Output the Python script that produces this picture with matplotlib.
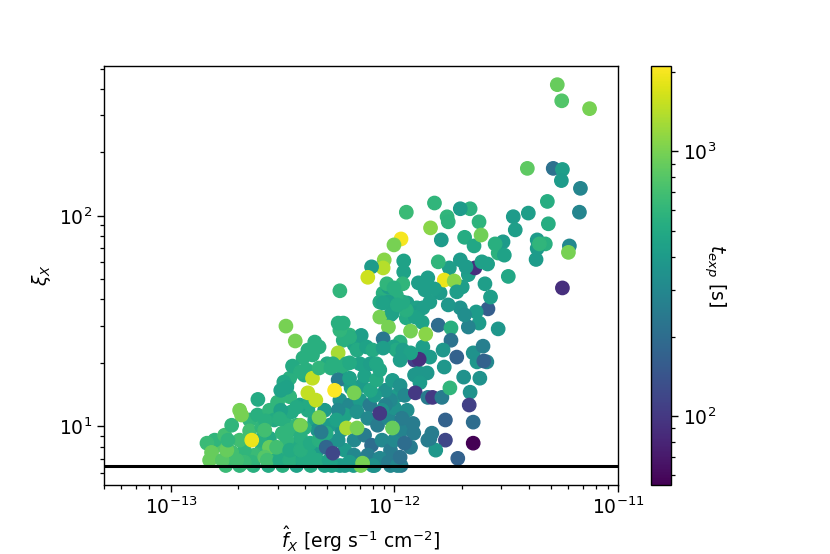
import numpy as np
import matplotlib
matplotlib.use("Agg")
import matplotlib.pyplot as plt
from matplotlib.colors import LogNorm

plt.rcParams['font.size'] = 13.5
plt.rcParams['axes.linewidth'] = 1.0

# flux in units of 1e-13 erg/s/cm2, xi_X, exposure time [s]
# upper right sparse part
fx_a = [53.5, 56, 74.6, 39.3, 51.3, 56.4, 55.8, 67.9, 67.2, 48.3,
        48.8, 39.7, 34, 34.7, 60.6, 60, 56.4, 43.5, 47.3, 43.5,
        43, 44.5, 32.3, 30.6, 28.2, 31, 23.9, 24.4, 21.8, 19.7]
xi_a = [420, 352, 323, 168, 168, 166, 147, 135, 104, 117,
        91.6, 103, 99, 85.7, 71.9, 67, 45.4, 76.8, 73.5, 70,
        62, 73.5, 51.5, 75.2, 73.5, 65, 93.6, 81, 108, 108]
t_a = [900, 780, 1000, 850, 210, 420, 400, 290, 290, 530,
       530, 420, 400, 420, 300, 1000, 90, 400, 550, 400,
       400, 600, 480, 400, 550, 450, 580, 950, 560, 400]

# upper middle
fx_b = [20.6, 22.7, 22.9, 24.6, 26.1, 19.7, 20.9, 17.6, 25.4, 26.9,
        17.2, 17.4, 15.1, 11.3, 14.5, 16.2, 10.7, 9.95, 15.7, 16.7,
        18.5, 14.1, 12.8, 15.1, 19, 11, 11, 9, 8.9, 10.9,
        9.4, 7.9, 7.6, 5.7, 9.25, 9.95, 29.1]
xi_b = [79, 71.9, 56.5, 60.4, 59, 61.7, 57.2, 56.5, 47.5, 41.1,
        98.9, 93.6, 115, 104, 87.6, 76.8, 77.6, 72.7, 60.4, 49.5,
        49, 50.7, 48, 44.9, 43.5, 61, 54.1, 61.7, 56.5, 47.5,
        45.9, 57.2, 51, 44, 47.5, 45.4, 66.5]
t_b = [520, 480, 90, 430, 430, 400, 400, 420, 420, 420,
       600, 580, 600, 650, 1100, 400, 2000, 1000, 600, 1900,
       1100, 420, 420, 420, 420, 450, 450, 1100, 1400, 600,
       420, 400, 1600, 600, 600, 550, 560]

# middle band
fx_c = [26.2, 23.2, 23.9, 21.4, 29.1, 19.7, 20.6, 17.4, 16, 15.7,
        17.9, 17.9, 19, 16.5, 22.5, 24.9, 25.1, 12.9, 13.8, 11.8,
        13.4, 14.4, 13.7, 12.4, 11.3, 10.9, 10.2, 9.4, 9.6, 8.6,
        8.6, 9.4, 8.9, 9.9, 10.2, 10.9, 11.8, 10.6, 7.1, 6.3,
        5.9, 5.7, 5.6, 5.9, 6.8, 7.5, 8.0, 8.9, 5.6, 4.6,
        4.4, 4.1, 4.3, 3.9, 3.5, 3.6, 3.27, 5.0, 5.3, 6.1,
        7.0, 7.8, 8.3,
        3.8, 4.05, 4.3, 4.6, 5.2, 5.8, 6.3, 6.1, 5.6, 6.3,
        5.4, 4.1, 3.2, 3.3, 3.1, 6.6, 7.8, 8.3, 8.6,
        8.9, 9.8, 10.3, 2.45]
xi_c = [36.1, 34.9, 30.9, 29.6, 29, 36.5, 33.8, 37.7, 43, 30.2,
        29.3, 25.6, 21.3, 23, 22.3, 24, 20.4, 20.8, 27.4, 28.3,
        36.5, 38.9, 44.4, 33, 35.6, 38.9, 42, 38.9, 33.8, 33,
        38.9, 29.6, 26, 23.8, 23, 23, 22.3, 20.6, 27, 26.5,
        25.6, 28.6, 30.9, 30.9, 23, 23.8, 23, 23.5, 22.3, 23.8,
        25.1, 23, 21.8, 21.1, 19.3, 25.4, 29.9, 19.8, 19.8, 19.8,
        19.8, 19.8, 19.8,
        18.1, 18.5, 16.9, 18.9, 18.9, 19.1, 20, 16.6, 16.6, 16.9,
        14.8, 14.4, 16.2, 15.3, 14.8, 14.4, 14.8, 16.6, 18.5,
        38.5, 34.5, 37.7, 13.4]
t_c = [160, 400, 400, 280, 380, 350, 330, 380, 400, 200,
       550, 220, 170, 380, 350, 260, 170, 90, 1100, 1000,
       420, 420, 420, 450, 550, 500, 550, 420, 450, 1000,
       500, 1000, 230, 450, 500, 420, 450, 420, 420, 550,
       550, 600, 550, 550, 500, 450, 500, 420, 1300, 550,
       550, 550, 550, 550, 500, 1000, 1000, 500, 550, 500,
       450, 420, 480,
       550, 550, 1500, 600, 550, 550, 500, 400, 250, 450,
       2100, 1500, 480, 450, 450, 1000, 480, 500, 480,
       450, 450, 500, 500]

# extra points filling the middle band
fx_h = [20.1, 21.4, 8.9, 9.6, 11.4, 12.6, 12.1, 13.3, 11.3, 6.3,
        6.6, 10.6, 13.4, 14.4, 3.06, 3.65]
xi_h = [45.9, 52.5, 42.9, 38.5, 38.5, 36.5, 34.5, 31.2, 32.7, 27.1,
        24.4, 25.1, 23.8, 21.3, 10.85, 12.3]
t_h = [420, 420, 550, 500, 420, 450, 400, 450, 500, 600,
       450, 550, 420, 400, 550, 500]

# lower left
fx_d = [1.45, 1.52, 1.49, 1.7, 1.97, 1.78, 1.8, 1.87, 2.03, 2.07,
        2.25, 2.3, 2.55, 2.65, 2.63, 2.76, 2.63, 2.7, 3.07, 3.4,
        3.9, 4.5, 5.1, 3.0, 3.1, 3.4, 3.3, 3.4,
        3.95,
        4.45, 3.65, 3.95, 3.8, 3.3, 3.15, 2.97, 3.4, 3.8, 4.2,
        4.6, 4.95, 4.7, 4.95, 5.3, 5.5,
        6.1, 6.8, 3.8, 4.6, 7.2, 8.6, 9.8]
xi_d = [8.3, 7.5, 6.89, 6.89, 6.89, 7.69, 8.58, 10.1, 11.9, 11.3,
        9.5, 8.58, 9.9, 10.6, 9.57, 7.94, 7.12, 6.89, 6.89, 6.89,
        6.89, 6.89, 6.89, 13, 11.9, 13.8, 15.6, 16.9,
        17.5,
        13.3, 10.1, 9.8, 8.86, 8.58, 9.26, 7.94, 7.69, 7.69, 8.3,
        8.58, 9.26, 9.37, 7.94, 7.44, 10.7,
        9.8, 9.8, 10.1, 11, 6.67, 11.5, 9.8]
t_d = [650, 900, 900, 800, 700, 900, 600, 600, 1000, 1000,
       700, 1900, 600, 550, 700, 900, 800, 700, 500, 550,
       500, 500, 450, 600, 450, 600, 600, 550,
       500,
       1500, 600, 550, 550, 600, 600, 700, 500, 550, 500,
       550, 500, 250, 180, 120, 450,
       1300, 1000, 1000, 1000, 1000, 100, 900]

# lower right
fx_e = [12.1, 12.2, 14.1, 12.3, 12.9, 12.3, 14, 13, 12.4, 14.1,
        14.8, 16.3, 16.7, 17.7, 20.4, 21.8, 24.1, 25.9, 23.4, 21.6,
        22.5, 22.5, 19.2, 16.9, 16.9, 15.3, 14.7, 14.4, 11.8, 11.1,
        10.6]
xi_e = [10.3, 9.26, 8.58, 20.6, 17.9, 17.5, 17.9, 16.1, 14.4, 13.7,
        13.7, 13.7, 19.1, 15.2, 17.1, 14.5, 16.9, 20.2, 20.2, 12.6,
        10.45, 8.3, 7.03, 10.7, 8.58, 7.69, 9.26, 8.72, 7.94, 8.3,
        7.12]
t_e = [250, 250, 250, 110, 380, 380, 380, 400, 100, 250,
       100, 250, 380, 600, 350, 350, 350, 300, 380, 110,
       200, 55, 170, 170, 120, 380, 250, 250, 250, 200,
       220]

# dense core
fx_f = [5.7, 6.3, 7.0, 7.76, 6.0, 6.8, 7.6, 8.4, 9.4, 10.0,
        10.3, 9.6, 9.1, 7.14, 6.4, 5.8, 6.6, 7.35, 7.9, 8.8,
        9.6, 10.0, 10.8, 6.0, 6.6, 7.6, 8.6, 9.4, 10.3, 8.0,
        6.3, 5.6, 5.24, 6.0, 9.1, 8.15, 7.35, 9.8, 10.6, 11.1,
        11.4, 10.8, 8.8, 4.87, 4.4, 4.1, 5.12, 4.53, 5.6, 5.0,
        4.53, 4.17, 3.77, 3.57, 3.22, 2.9, 2.55, 2.37, 2.13, 2.03,
        2.25, 2.44, 2.76, 2.9, 3.22, 3.47, 3.77, 4.17, 3.39, 2.76,
        2.49, 2.3, 2.13, 1.87, 1.65, 1.57, 1.74]
xi_f = [13.3, 12.6, 13.3, 12.6, 11.3, 11.7, 10.9, 10.1, 10.9, 12.2,
        14.0, 13.3, 14.8, 15.6, 15.2, 9.57, 8.58, 9.06, 8.12, 8.58,
        7.69, 8.58, 9.57, 7.69, 7.28, 7.28, 7.04, 6.74, 6.5, 6.5,
        6.74, 8.58, 6.5, 6.5, 12.6, 14.0, 17.3, 16.5, 15.6, 14.0,
        11.9, 10.9, 11.9, 11.9, 10.7, 11.9, 10.1, 9.57, 11.9, 8.12,
        7.69, 7.28, 7.04, 8.12, 7.69, 7.28, 7.69, 7.28, 7.69, 8.58,
        10.7, 11.3, 11.9, 10.7, 10.7, 11.7, 12.6, 12.8, 9.57, 8.77,
        8.58, 6.74, 6.74, 7.52, 8.12, 8.58, 9.06]
t_f = [350, 300, 400, 250, 450, 350, 300, 250, 300, 350,
       400, 300, 350, 400, 450, 350, 300, 250, 200, 300,
       250, 300, 280, 400, 300, 250, 300, 250, 300, 350,
       400, 350, 450, 400, 280, 400, 450, 400, 350, 300,
       330, 250, 350, 400, 450, 500, 400, 350, 300, 350,
       400, 500, 450, 500, 600, 550, 600, 650, 600, 700,
       600, 550, 600, 500, 550, 500, 450, 500, 600, 500,
       550, 600, 650, 700, 800, 600, 700]

# bottom row sitting on the cut
fx_g = [1.76, 2.03, 2.34, 2.73, 3.16, 3.65, 4.22, 4.87, 5.7, 6.56, 7.07, 8.15, 9.6, 10.7]
xi_g = [6.5, 6.5, 6.5, 6.5, 6.5, 6.5, 6.5, 6.5, 6.5, 6.5, 6.5, 6.5, 6.5, 6.5]
t_g = [650, 600, 550, 500, 550, 450, 500, 450, 400, 400, 1000, 350, 300, 250]

xi_cut = 6.45
x_major = [1e-13, 1e-12, 1e-11]
y_major = [10, 100]

fx = np.array(fx_g + fx_f + fx_d + fx_e + fx_h + fx_c + fx_b + fx_a) * 1e-13
xi = np.array(xi_g + xi_f + xi_d + xi_e + xi_h + xi_c + xi_b + xi_a)
texp = np.array(t_g + t_f + t_d + t_e + t_h + t_c + t_b + t_a)

fig = plt.figure(figsize=(8.3, 5.54), dpi=100)
ax = fig.add_axes([0.1248, 0.1245, 0.6198, 0.7563])
cax = fig.add_axes([0.784, 0.1245, 0.0245, 0.7563])

sc = ax.scatter(fx, xi, c=texp, cmap='viridis', norm=LogNorm(vmin=55, vmax=2100),
                s=92, zorder=2)
ax.axhline(xi_cut, color='k', lw=2.2, zorder=3)

ax.set_xscale('log')
ax.set_yscale('log')
ax.set_xticks(x_major)
ax.set_yticks(y_major)
ax.set_xlim(5e-14, 1e-11)
ax.set_ylim(5.25, 515)
ax.set_xlabel(r'$\hat{f}_X$ [erg s$^{-1}$ cm$^{-2}$]')
ax.set_ylabel(r'$\xi_X$')
ax.tick_params(which='major', length=5, width=1.0)
ax.tick_params(which='minor', length=3, width=0.9)

cb = fig.colorbar(sc, cax=cax)
cb.set_label(r'$t_{exp}$ [s]', rotation=270, labelpad=8)
cb.ax.tick_params(which='major', length=5, width=1.0)
cb.ax.tick_params(which='minor', length=3, width=0.9)

fig.savefig('out.png', dpi=100)
